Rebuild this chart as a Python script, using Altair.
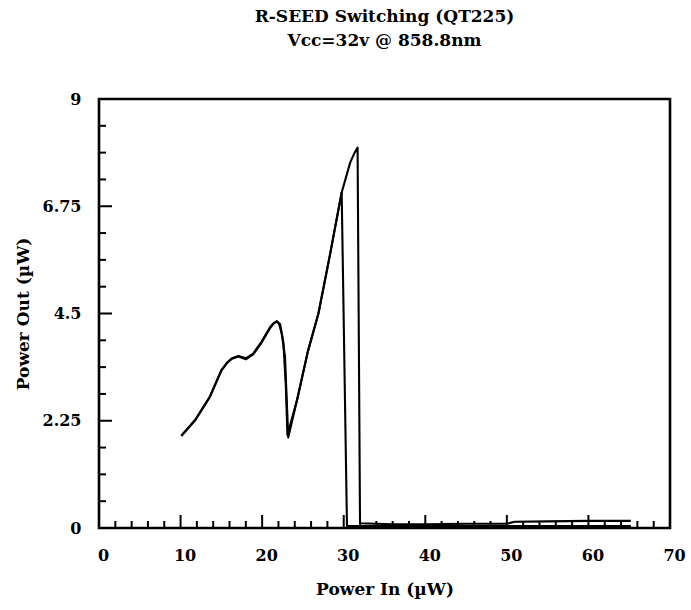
import altair as alt
import pandas as pd

# ---- data ----
up_x = [10.1, 11.8, 13.6, 15.0, 15.7, 16.3, 17.1, 18.0, 18.9, 19.9, 21.0, 21.5, 21.8, 22.1, 22.4,
        22.8, 23.2, 24.3, 25.6, 26.9, 28.3, 29.75, 30.8, 31.3, 31.7, 32.0, 36.0, 40.0, 45.0, 50.0,
        51.0, 55.0, 60.0, 65.2]
up_y = [1.93, 2.27, 2.76, 3.31, 3.47, 3.56, 3.61, 3.56, 3.66, 3.90, 4.22, 4.31, 4.34, 4.27, 4.08,
        3.60, 1.90, 2.70, 3.70, 4.50, 5.72, 7.04, 7.67, 7.86, 7.98, 0.10, 0.08, 0.08, 0.09, 0.09,
        0.13, 0.14, 0.15, 0.15]

down_x = [65.2, 60.0, 50.0, 40.0, 35.0, 30.4, 29.75, 28.3, 26.9, 25.6, 24.3, 23.1, 22.9, 22.6,
          22.2, 21.8, 21.4, 21.0, 19.9, 18.9, 18.0, 17.1, 16.3, 15.7, 15.0, 13.6, 11.8, 10.1]
down_y = [0.04, 0.04, 0.04, 0.04, 0.04, 0.04, 7.04, 5.72, 4.50, 3.70, 2.70, 1.95, 3.00, 3.90,
          4.28, 4.33, 4.29, 4.20, 3.88, 3.64, 3.54, 3.60, 3.55, 3.46, 3.30, 2.75, 2.26, 1.94]

x_label_values = [0, 10, 20, 30, 40, 50, 60, 70]
y_label_values = [0, 2.25, 4.5, 6.75, 9]
x_major_ticks = [10, 20, 30, 40, 50, 60]
x_minor_ticks = [v for v in range(2, 70, 2) if v % 10 != 0]
y_major_ticks = [2.25, 4.5, 6.75]
y_minor_ticks = [0.5625, 1.125, 1.6875, 2.8125, 3.375, 3.9375,
                 5.0625, 5.625, 6.1875, 7.3125, 7.875, 8.4375]

title_lines = ["R-SEED Switching (QT225)", "Vcc=32v @ 858.8nm"]
x_title = "Power In (\u00b5W)"
y_title = "Power Out (\u00b5W)"

# ---- tables ----
rows = []
for i, (xv, yv) in enumerate(zip(up_x, up_y)):
    rows.append({"sweep": "up", "step": i, "pin": xv, "pout": yv})
for i, (xv, yv) in enumerate(zip(down_x, down_y)):
    rows.append({"sweep": "down", "step": i, "pin": xv, "pout": yv})
curve_df = pd.DataFrame(rows)

W, H = 571, 429
FONT = "DejaVu Serif"

xscale = alt.Scale(domain=[0, 70], nice=False, zero=False)
yscale = alt.Scale(domain=[0, 9], nice=False, zero=False)

def xaxis():
    return alt.Axis(values=x_label_values, title=x_title, labelPadding=19,
                    titlePadding=18, labelOffset=4, labelFlush=False, format="d")

def yaxis():
    return alt.Axis(values=y_label_values, title=y_title, labelPadding=18,
                    titlePadding=10, labelFlush=False, labelExpr="'' + datum.value")

line = alt.Chart(curve_df).mark_line(color="black", strokeWidth=2.1, strokeJoin="round").encode(
    x=alt.X("pin:Q", scale=xscale, axis=xaxis()),
    y=alt.Y("pout:Q", scale=yscale, axis=yaxis()),
    detail="sweep:N",
    order="step:Q",
)

def xticks(vals, length):
    return alt.Chart(pd.DataFrame({"pin": vals})).mark_rule(color="black", strokeWidth=2).encode(
        x=alt.X("pin:Q", scale=xscale, axis=xaxis()),
        y=alt.value(H),
        y2=alt.value(H - length),
    )

def yticks(vals, length):
    return alt.Chart(pd.DataFrame({"pout": vals})).mark_rule(color="black", strokeWidth=2).encode(
        y=alt.Y("pout:Q", scale=yscale, axis=yaxis()),
        x=alt.value(0),
        x2=alt.value(length),
    )

chart = alt.layer(
    line,
    xticks(x_minor_ticks, 7), xticks(x_major_ticks, 13),
    yticks(y_minor_ticks, 7), yticks(y_major_ticks, 13),
).properties(
    width=W, height=H,
    autosize=alt.AutoSizeParams(type="none"),
    padding={"left": 99, "top": 99, "right": 21, "bottom": 82},
    title=alt.TitleParams(text=title_lines, font=FONT, fontSize=17, fontWeight="bold",
                          anchor="middle", frame="group", offset=41, lineHeight=24,
                          color="black"),
).configure(
    background="white"
).configure_view(
    stroke="black", strokeWidth=2.6
).configure_axis(
    domain=False, ticks=False, tickSize=0, grid=False,
    labelFont=FONT, labelFontSize=16, labelFontWeight="bold", labelColor="black",
    titleFont=FONT, titleFontSize=17, titleFontWeight="bold", titleColor="black",
)

chart.save("out.html", embed_options={"renderer": "svg", "actions": False})
